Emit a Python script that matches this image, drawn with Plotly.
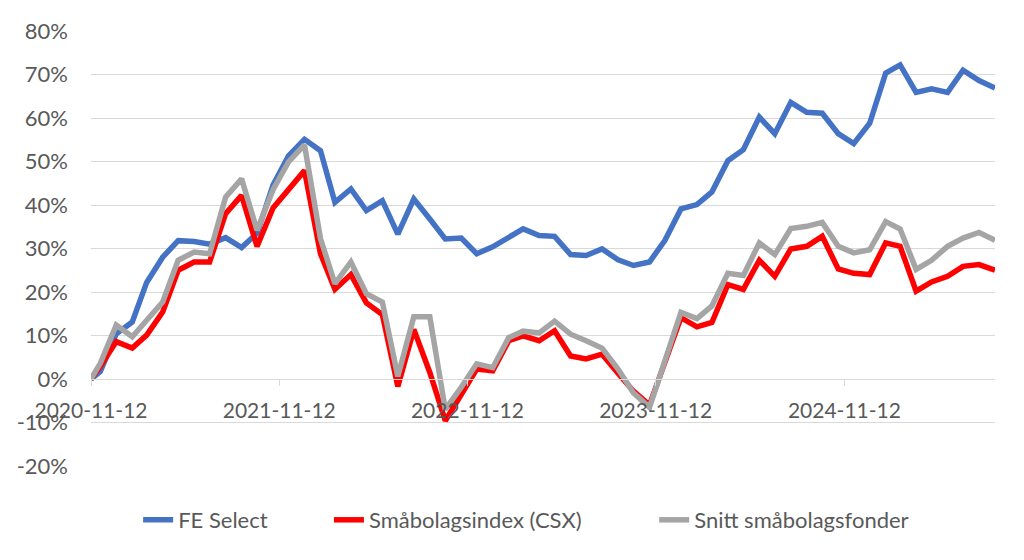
import pandas as pd
import plotly.graph_objects as go

# first point is the start date, then every month end
dates = ["2020-11-12"] + [d.strftime("%Y-%m-%d") for d in pd.date_range("2020-11-30", "2025-08-31", freq="ME")]

fe_select = [0, 1.7, 10.4, 13.1, 22.2, 28.0, 31.8, 31.6, 31.0, 32.5, 30.2, 33.5, 44.6, 51.3, 55.1,
             52.5, 40.6, 43.7, 38.7, 41.0, 33.3, 41.4, 36.8, 32.2, 32.4, 28.8, 30.4, 32.6, 34.5, 33.0,
             32.8, 28.6, 28.4, 29.9, 27.4, 26.1, 26.9, 31.9, 39.1, 40.1, 43.0, 50.2, 52.7, 60.2, 56.4,
             63.6, 61.3, 61.1, 56.4, 54.1, 58.8, 70.3, 72.2, 65.9, 66.7, 65.9, 71.0, 68.6, 66.9]
csx = [0, 2.9, 8.6, 7.1, 10.1, 15.4, 25.0, 26.9, 26.9, 38.0, 42.2, 30.5, 39.3, 43.7, 47.9,
       28.8, 20.6, 24.0, 17.5, 14.8, -1.7, 11.4, 1.5, -9.6, -3.6, 2.3, 1.9, 8.8, 9.9, 8.8,
       11.1, 5.3, 4.6, 5.7, 1.3, -2.8, -6.0, 4.0, 14.1, 12.0, 13.0, 21.7, 20.6, 27.3, 23.6,
       29.9, 30.5, 32.8, 25.3, 24.3, 24.0, 31.3, 30.5, 20.2, 22.3, 23.6, 25.9, 26.3, 25.0]
snitt = [0, 3.6, 12.4, 9.7, 13.5, 17.7, 27.3, 29.2, 28.8, 41.8, 46.0, 34.2, 43.5, 49.9, 53.8,
         32.3, 21.9, 26.9, 19.6, 17.7, 0.6, 14.3, 14.3, -7.0, -1.9, 3.5, 2.6, 9.5, 11.0, 10.6,
         13.3, 10.3, 8.8, 7.1, 2.3, -3.2, -6.5, 4.2, 15.3, 13.9, 16.8, 24.3, 23.8, 31.3, 28.6,
         34.6, 35.1, 36.0, 30.5, 29.0, 29.7, 36.2, 34.5, 25.2, 27.3, 30.5, 32.4, 33.7, 31.9]

x_ticks = ["2020-11-12", "2021-11-12", "2022-11-12", "2023-11-12", "2024-11-12"]
y_ticks = [-20, -10, 0, 10, 20, 30, 40, 50, 60, 70, 80]
y_labels = ["-20%", "-10%", "0%", "10%", "20%", "30%", "40%", "50%", "60%", "70%", "80%"]

# non-breaking spaces widen the gap between legend entries
series = [
    ("FE Select" + "\u00a0" * 10, fe_select, "#4472C4"),
    ("Småbolagsindex (CSX)" + "\u00a0" * 12, csx, "#FF0000"),
    ("Snitt småbolagsfonder", snitt, "#A5A5A5"),
]

fig = go.Figure()
for name, vals, color in series:
    fig.add_trace(go.Scatter(x=dates, y=vals, name=name, mode="lines",
                             line=dict(color=color, width=5.5)))

grey_txt = "#595959"
grid = "#D9D9D9"

# the html page has an 8px body margin, so margins are shifted by that
fig.update_layout(
    width=1024, height=560,
    margin=dict(l=83, r=37, t=23, b=102, autoexpand=False),
    paper_bgcolor="white", plot_bgcolor="white",
    font=dict(family="Lato", size=21, color=grey_txt),
    xaxis=dict(
        type="date", range=[dates[0], dates[-1]],
        tickvals=x_ticks, tickformat="%Y-%m-%d",
        showgrid=False, zeroline=False, automargin=False,
        showline=True, linecolor=grid, linewidth=1,
        ticks="outside", ticklen=6, tickcolor=grid,
        anchor="free", position=0.2, ticklabelstandoff=7,
        tickfont=dict(family="Lato", size=21, color=grey_txt),
    ),
    yaxis=dict(
        range=[-20, 80], tickvals=y_ticks, ticktext=y_labels,
        showgrid=True, gridcolor=grid, gridwidth=1,
        zeroline=False, showline=False, automargin=False,
        ticklabelstandoff=22,
        tickfont=dict(family="Lato", size=22, color=grey_txt),
    ),
    legend=dict(
        orientation="h", xref="container", yref="container",
        x=0.506, xanchor="center", y=1 - 512 / 560, yanchor="middle",
        font=dict(family="Lato", size=22, color=grey_txt), itemwidth=30,
    ),
)

fig.write_html("out.html")
